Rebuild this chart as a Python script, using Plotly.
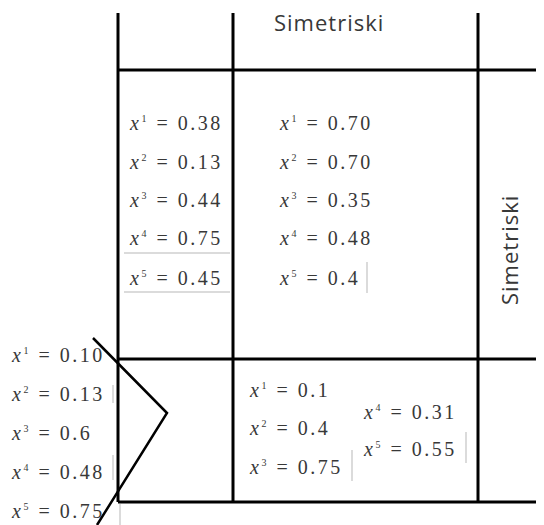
import plotly.graph_objects as go

# labels and values
sym_label = "Simetriski"
idx = [1, 2, 3, 4, 5]
top_left_vals = ["0.38", "0.13", "0.44", "0.75", "0.45"]
top_mid_vals = ["0.70", "0.70", "0.35", "0.48", "0.4"]
outside_vals = ["0.10", "0.13", "0.6", "0.48", "0.75"]
bottom_mid_vals = ["0.1", "0.4", "0.75", "0.31", "0.55"]

W, H = 544, 525
PAD = 8  # default page margin around the plot div
col_x = [118, 233, 478]
row_y = [70, 359, 502]
top_y = 13
row5 = [123, 162, 200, 238, 278]
out_rows = [355, 394, 433, 472, 511]

SERIF = "Liberation Serif, Times New Roman, serif"
SANS = "Open Sans, Noto Sans, sans-serif"
INK = "#383838"


def lbl(i, v):
    return ('<span style="letter-spacing:2.5px"><i>x</i><sup>'
            '<span style="font-size:10px">%d</span></sup> = %s</span>' % (i, v))


def line(fig, xs, ys, color="black", width=3):
    fig.add_trace(go.Scatter(x=xs, y=ys, mode="lines", hoverinfo="skip",
                             line=dict(color=color, width=width),
                             showlegend=False))


fig = go.Figure()

# grid of the table
for cx in col_x:
    line(fig, [cx, cx], [top_y, row_y[-1]])
for ry in row_y:
    line(fig, [col_x[0], W], [ry, ry])

# the bracket on the left
line(fig, [93, 167, 97], [338, 413, 525], width=2.5)

# faint cursor / underline marks
grey = "#cfcfcf"
line(fig, [124, 230], [253, 253], grey, 1.5)
line(fig, [124, 230], [292, 292], grey, 1.5)
line(fig, [367, 367], [262, 293], grey, 1.5)
line(fig, [352, 352], [450, 481], grey, 1.5)
line(fig, [466, 466], [432, 463], grey, 1.5)
line(fig, [113, 113], [385, 403], grey, 1.5)
line(fig, [113, 113], [455, 480], grey, 1.5)
line(fig, [120, 120], [504, 525], grey, 1.5)

ann = []


def add_text(x, y, t, size=20, font=SERIF, angle=0, anchor="left"):
    ann.append(dict(x=x, y=y, xref="x", yref="y", text=t, showarrow=False,
                    xanchor=anchor, yanchor="middle", textangle=angle,
                    font=dict(family=font, size=size, color=INK)))


for i, v, y in zip(idx, top_left_vals, row5):
    add_text(127, y, lbl(i, v))
for i, v, y in zip(idx, top_mid_vals, row5):
    add_text(277, y, lbl(i, v))
for i, v, y in zip(idx, outside_vals, out_rows):
    add_text(9, y, lbl(i, v))
for i, v, y in zip(idx[:3], bottom_mid_vals[:3], [390, 428, 467]):
    add_text(247, y, lbl(i, v))
for i, v, y in zip(idx[3:], bottom_mid_vals[3:], [412, 449]):
    add_text(361, y, lbl(i, v))

sym = '<span style="letter-spacing:1px">%s</span>' % sym_label
add_text(329, 22, sym, size=22, font=SANS, anchor="center")
add_text(509, 250, sym, size=22, font=SANS, angle=-90, anchor="center")

fig.update_layout(
    width=W - PAD, height=H - PAD,
    margin=dict(l=0, r=0, t=0, b=0),
    paper_bgcolor="white", plot_bgcolor="white",
    xaxis=dict(range=[PAD, W], visible=False, fixedrange=True),
    yaxis=dict(range=[H, PAD], visible=False, fixedrange=True),
    annotations=ann,
)

fig.write_html("out.html")
